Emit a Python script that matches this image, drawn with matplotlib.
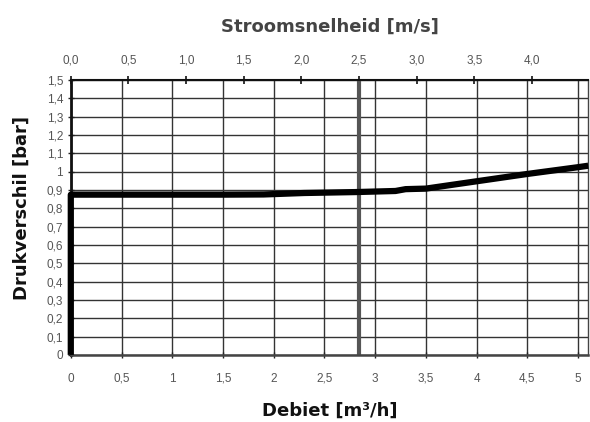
import matplotlib
matplotlib.use("Agg")
import matplotlib.pyplot as plt
import numpy as np

plt.rcParams['font.family'] = ['Liberation Sans', 'DejaVu Sans']

# Data
debiet = [0, 0, 0.5, 1.0, 1.5, 1.9, 2.3, 2.8, 3.2, 3.3, 3.5, 4.0, 4.5, 5.0, 5.1]
druk = [0, 0.875, 0.875, 0.875, 0.875, 0.876, 0.884, 0.889, 0.895, 0.905, 0.908, 0.948, 0.988, 1.025, 1.033]
x_ticks = [0, 0.5, 1, 1.5, 2, 2.5, 3, 3.5, 4, 4.5, 5]
x_labels = ["0", "0,5", "1", "1,5", "2", "2,5", "3", "3,5", "4", "4,5", "5"]
y_ticks = [0, 0.1, 0.2, 0.3, 0.4, 0.5, 0.6, 0.7, 0.8, 0.9, 1.0, 1.1, 1.2, 1.3, 1.4, 1.5]
y_labels = ["0", "0,1", "0,2", "0,3", "0,4", "0,5", "0,6", "0,7", "0,8", "0,9", "1", "1,1", "1,2", "1,3", "1,4", "1,5"]
v_ticks = [0.0, 0.5, 1.0, 1.5, 2.0, 2.5, 3.0, 3.5, 4.0]
v_labels = ["0,0", "0,5", "1,0", "1,5", "2,0", "2,5", "3,0", "3,5", "4,0"]
v_per_q = 0.88          # m/s per m3/h
marker_velocity = 2.5   # m/s

fig = plt.figure(figsize=(5.9, 4.22), dpi=100)
ax = fig.add_axes([0.120, 0.159, 0.877, 0.651])

ax.set_xlim(0, 5.1)
ax.set_ylim(0, 1.5)
ax.set_xticks(x_ticks)
ax.set_xticklabels(x_labels)
ax.set_yticks(y_ticks)
ax.set_yticklabels(y_labels)
ax.grid(True, color='#333333', linewidth=1.0)
ax.set_axisbelow(True)

tick_fs = 8.5
ax.tick_params(axis='both', labelsize=tick_fs, labelcolor='#555555', color='#222222',
               direction='inout', length=5, width=1.0)
ax.tick_params(axis='x', pad=17)
ax.tick_params(axis='y', pad=3)

for s in ['left', 'top']:
    ax.spines[s].set_color('#111111')
ax.spines['left'].set_linewidth(2.0)
ax.spines['top'].set_linewidth(1.5)
ax.spines['bottom'].set_color('#444444')
ax.spines['bottom'].set_linewidth(1.8)
ax.spines['right'].set_color('#444444')
ax.spines['right'].set_linewidth(1.0)

ax.axvline(marker_velocity / v_per_q, color='#555555', linewidth=3, zorder=2)
ax.plot(debiet, druk, color='black', linewidth=4.5, solid_capstyle='butt', zorder=3, clip_on=False)

sec = ax.secondary_xaxis('top', functions=(lambda q: q * v_per_q, lambda v: v / v_per_q))
sec.set_xticks(v_ticks)
sec.set_xticklabels(v_labels)
sec.tick_params(labelsize=tick_fs, labelcolor='#555555', color='#111111',
                direction='inout', length=6, width=1.2, pad=7)
sec.spines['top'].set_visible(False)

title_font = dict(family=['DejaVu Sans'], fontsize=13, fontweight='bold')
sec.set_xlabel("Stroomsnelheid [m/s]", color='#444444', labelpad=16, **title_font)
ax.set_xlabel("Debiet [m³/h]", color='#111111', **title_font)
ax.set_ylabel("Drukverschil [bar]", color='#111111', **title_font)
ax.yaxis.set_label_coords(-0.077, 0.535)
ax.xaxis.set_label_coords(0.5, -0.171)
ax.xaxis.label.set_verticalalignment('top')

fig.canvas.draw()
for lab in ax.get_xticklabels():
    lab.set_verticalalignment('baseline')

fig.savefig("out.png", dpi=100)
